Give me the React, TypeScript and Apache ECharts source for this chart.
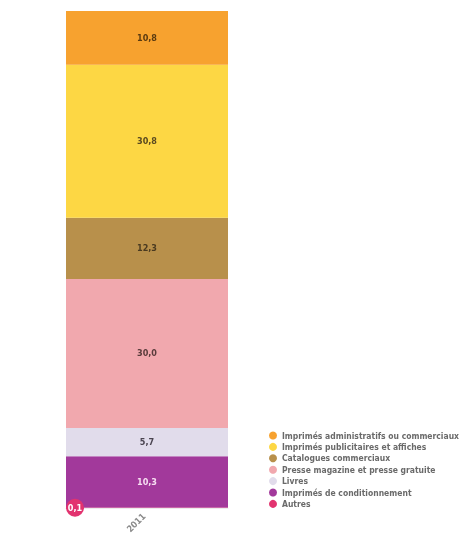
import React, { useEffect, useRef } from "react";
import * as echarts from "echarts";

const categories = ["2011"];
const seriesNames = [
  "Autres",
  "Imprimés de conditionnement",
  "Livres",
  "Presse magazine et presse gratuite",
  "Catalogues commerciaux",
  "Imprimés publicitaires et affiches",
  "Imprimés administratifs ou commerciaux",
];
const seriesValues = [0.1, 10.3, 5.7, 30.0, 12.3, 30.8, 10.8];
const seriesColors = ["#E2336F", "#A2399B", "#E1DCEB", "#F1A8AE", "#B8904B", "#FDD744", "#F7A22F"];
const labelColors = ["#ffffff", "#F6DDF1", "#4a4450", "#5a3c3c", "#4a3a20", "#5a4a20", "#5a3a10"];
const legendOrder = [
  "Imprimés administratifs ou commerciaux",
  "Imprimés publicitaires et affiches",
  "Catalogues commerciaux",
  "Presse magazine et presse gratuite",
  "Livres",
  "Imprimés de conditionnement",
  "Autres",
];

const fmt = (v: number) => v.toFixed(1).replace(".", ",");
const FONT = "'DejaVu Sans Condensed', 'Liberation Sans Narrow', 'Roboto', sans-serif";

export default function App() {
  const ref = useRef<HTMLDivElement>(null);
  useEffect(() => {
    if (!ref.current) return;
    const chart = echarts.init(ref.current, undefined, { renderer: "svg" });
    const series = seriesNames.map((name, i) => {
      const isAutres = name === "Autres";
      return {
        name,
        type: "bar",
        stack: "total",
        barWidth: "100%",
        data: [seriesValues[i]],
        itemStyle: { color: seriesColors[i] },
        label: isAutres
          ? {
              show: true,
              position: "left",
              distance: -9,
              formatter: (p: any) => fmt(p.value),
              color: "#ffffff",
              fontSize: 9,
              fontWeight: "bold",
              fontFamily: FONT,
              backgroundColor: seriesColors[i],
              width: 18,
              height: 18,
              lineHeight: 18,
              borderRadius: 9,
              align: "center",
            }
          : {
              show: true,
              position: "inside",
              formatter: (p: any) => fmt(p.value),
              color: labelColors[i],
              fontSize: 9,
              fontWeight: "bold",
              fontFamily: FONT,
            },
      };
    });
    chart.setOption({
      animation: false,
      grid: { left: 66, right: 234, top: 11, bottom: 28, outerBoundsMode: "none", containLabel: false },
      xAxis: {
        type: "category",
        data: categories,
        axisLine: { show: true, lineStyle: { color: "#ececec" } },
        axisTick: { show: false },
        axisLabel: {
          rotate: 45,
          color: "#8a8a8a",
          fontSize: 9,
          fontWeight: "bold",
          fontFamily: FONT,
          margin: 4,
          padding: [0, 4, 0, 0],
        },
      },
      yAxis: {
        type: "value",
        min: 0,
        max: 100,
        show: false,
      },
      legend: {
        data: legendOrder,
        orient: "vertical",
        left: 264,
        top: 425,
        icon: "circle",
        itemWidth: 8,
        itemHeight: 8,
        itemGap: 0.4,
        textStyle: {
          fontSize: 8.5,
          lineHeight: 11,
          color: "#6a6a6a",
          fontWeight: "bold",
          fontFamily: FONT,
        },
      },
      series,
    });
    return () => chart.dispose();
  }, []);
  return (
    <div
      ref={ref}
      style={{ position: "fixed", left: 0, top: 0, width: 462, height: 536 }}
    />
  );
}
